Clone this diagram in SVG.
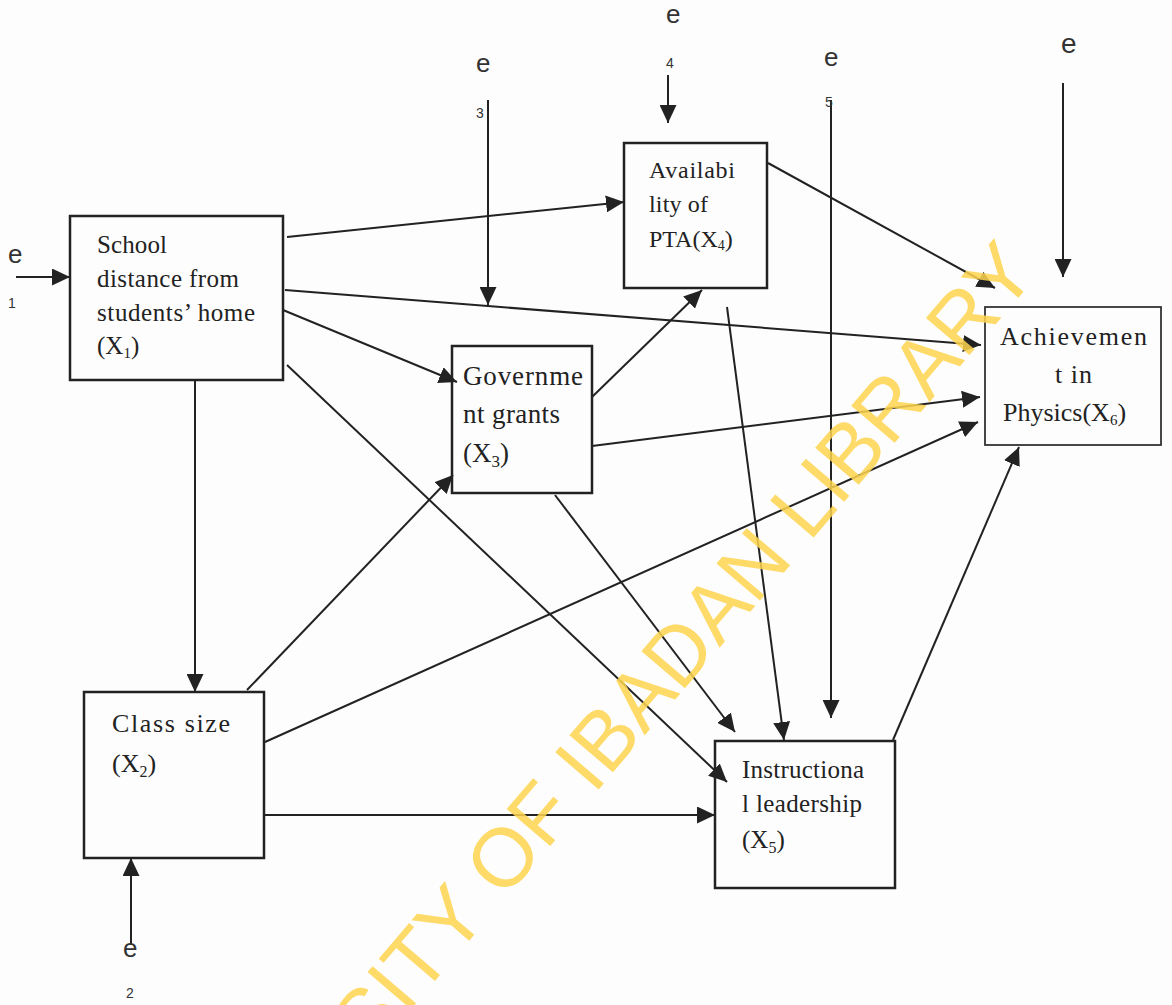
<svg xmlns="http://www.w3.org/2000/svg" width="1172" height="1005" viewBox="0 0 1172 1005">
<defs>
<marker id="ah" markerUnits="userSpaceOnUse" markerWidth="18" markerHeight="17" refX="18" refY="8.5" orient="auto">
<path d="M0,0 L18,8.5 L0,17 z" fill="#222"/>
</marker>
<style>
.box{fill:none;stroke:#222;stroke-width:2.5}
.lbl{font-family:"Liberation Serif","Times New Roman",serif;fill:#222}
.err{font-family:"Liberation Sans",Arial,sans-serif;fill:#333}
.cn line{stroke:#222;stroke-width:2;marker-end:url(#ah)}
.wm{font-family:"Liberation Sans",Arial,sans-serif;fill:#FFD54F;opacity:0.85}
</style>
</defs>
<rect width="1172" height="1005" fill="#fdfdfd"/>
<g id="connectors" class="cn">
<line x1="16" y1="277" x2="70" y2="277"/>
<line x1="131" y1="945" x2="131" y2="858"/>
<line x1="488" y1="100" x2="488" y2="305"/>
<line x1="668" y1="75" x2="668" y2="123"/>
<line x1="831" y1="100" x2="831" y2="718"/>
<line x1="1063" y1="83" x2="1063" y2="277"/>
<line x1="287" y1="237" x2="624" y2="202"/>
<line x1="285" y1="290" x2="981" y2="345"/>
<line x1="283" y1="310" x2="457" y2="382"/>
<line x1="287" y1="365" x2="727" y2="782"/>
<line x1="195" y1="380" x2="195" y2="692"/>
<line x1="247" y1="690" x2="453" y2="475"/>
<line x1="265" y1="742" x2="978" y2="422"/>
<line x1="264" y1="815" x2="715" y2="815"/>
<line x1="592" y1="397" x2="702" y2="290"/>
<line x1="592" y1="446" x2="980" y2="397"/>
<line x1="555" y1="495" x2="735" y2="732"/>
<line x1="727" y1="307" x2="784" y2="740"/>
<line x1="768" y1="163" x2="995" y2="288"/>
<line x1="893" y1="740" x2="1019" y2="447"/>
</g>
<g id="errors">
<text class="err" x="8" y="263" font-size="26">e</text>
<text class="err" x="8" y="308" font-size="14">1</text>
<text class="err" x="123" y="957" font-size="26">e</text>
<text class="err" x="126" y="998" font-size="14">2</text>
<text class="err" x="476" y="72" font-size="26">e</text>
<text class="err" x="476" y="118" font-size="14">3</text>
<text class="err" x="666" y="23" font-size="26">e</text>
<text class="err" x="666" y="68" font-size="14">4</text>
<text class="err" x="824" y="66" font-size="26">e</text>
<text class="err" x="825" y="107" font-size="14">5</text>
<text class="err" x="1061" y="53" font-size="28">e</text>
</g>
<g id="X1">
<rect class="box" x="70" y="216" width="213" height="164"/>
<text class="lbl" font-size="25" x="97" y="253" textLength="70">School</text>
<text class="lbl" font-size="25" x="97" y="287" textLength="142">distance from</text>
<text class="lbl" font-size="25" x="97" y="321" textLength="158">students’ home</text>
<text class="lbl" font-size="25" x="97" y="354">(X<tspan font-size="15" dy="4">1</tspan><tspan dy="-4">)</tspan></text>
</g>
<g id="X2">
<rect class="box" x="84" y="692" width="180" height="166"/>
<text class="lbl" font-size="26" x="112" y="732" textLength="118">Class size</text>
<text class="lbl" font-size="26" x="112" y="772">(X<tspan font-size="16" dy="5">2</tspan><tspan dy="-5">)</tspan></text>
</g>
<g id="X3">
<rect class="box" x="452" y="346" width="140" height="147"/>
<text class="lbl" font-size="27" x="463" y="385" textLength="120">Governme</text>
<text class="lbl" font-size="27" x="463" y="423" textLength="97">nt grants</text>
<text class="lbl" font-size="27" x="463" y="462">(X<tspan font-size="17" dy="5">3</tspan><tspan dy="-5">)</tspan></text>
</g>
<g id="X4">
<rect class="box" x="624" y="143" width="143" height="145"/>
<text class="lbl" font-size="24" x="649" y="178" textLength="86">Availabi</text>
<text class="lbl" font-size="24" x="649" y="212" textLength="59">lity of</text>
<text class="lbl" font-size="24" x="649" y="247">PTA(X<tspan font-size="14" dy="3">4</tspan><tspan dy="-3">)</tspan></text>
</g>
<g id="X5">
<rect class="box" x="715" y="741" width="180" height="147"/>
<text class="lbl" font-size="25" x="742" y="778" textLength="122">Instructiona</text>
<text class="lbl" font-size="25" x="742" y="812" textLength="120">l leadership</text>
<text class="lbl" font-size="25" x="742" y="848">(X<tspan font-size="16" dy="5">5</tspan><tspan dy="-5">)</tspan></text>
</g>
<g id="X6">
<rect x="985" y="307" width="176" height="138" fill="none" stroke="#333" stroke-width="1.8"/>
<text class="lbl" font-size="26" x="1000" y="345" textLength="147">Achievemen</text>
<text class="lbl" font-size="26" x="1055" y="383" textLength="37">t in</text>
<text class="lbl" font-size="26" x="1003" y="421">Physics(X<tspan font-size="15" dy="4">6</tspan><tspan dy="-4">)</tspan></text>
</g>
<text class="wm" font-size="83" transform="translate(370,1057) rotate(-49.5)">SITY OF IBADAN LIBRARY</text>
</svg>
